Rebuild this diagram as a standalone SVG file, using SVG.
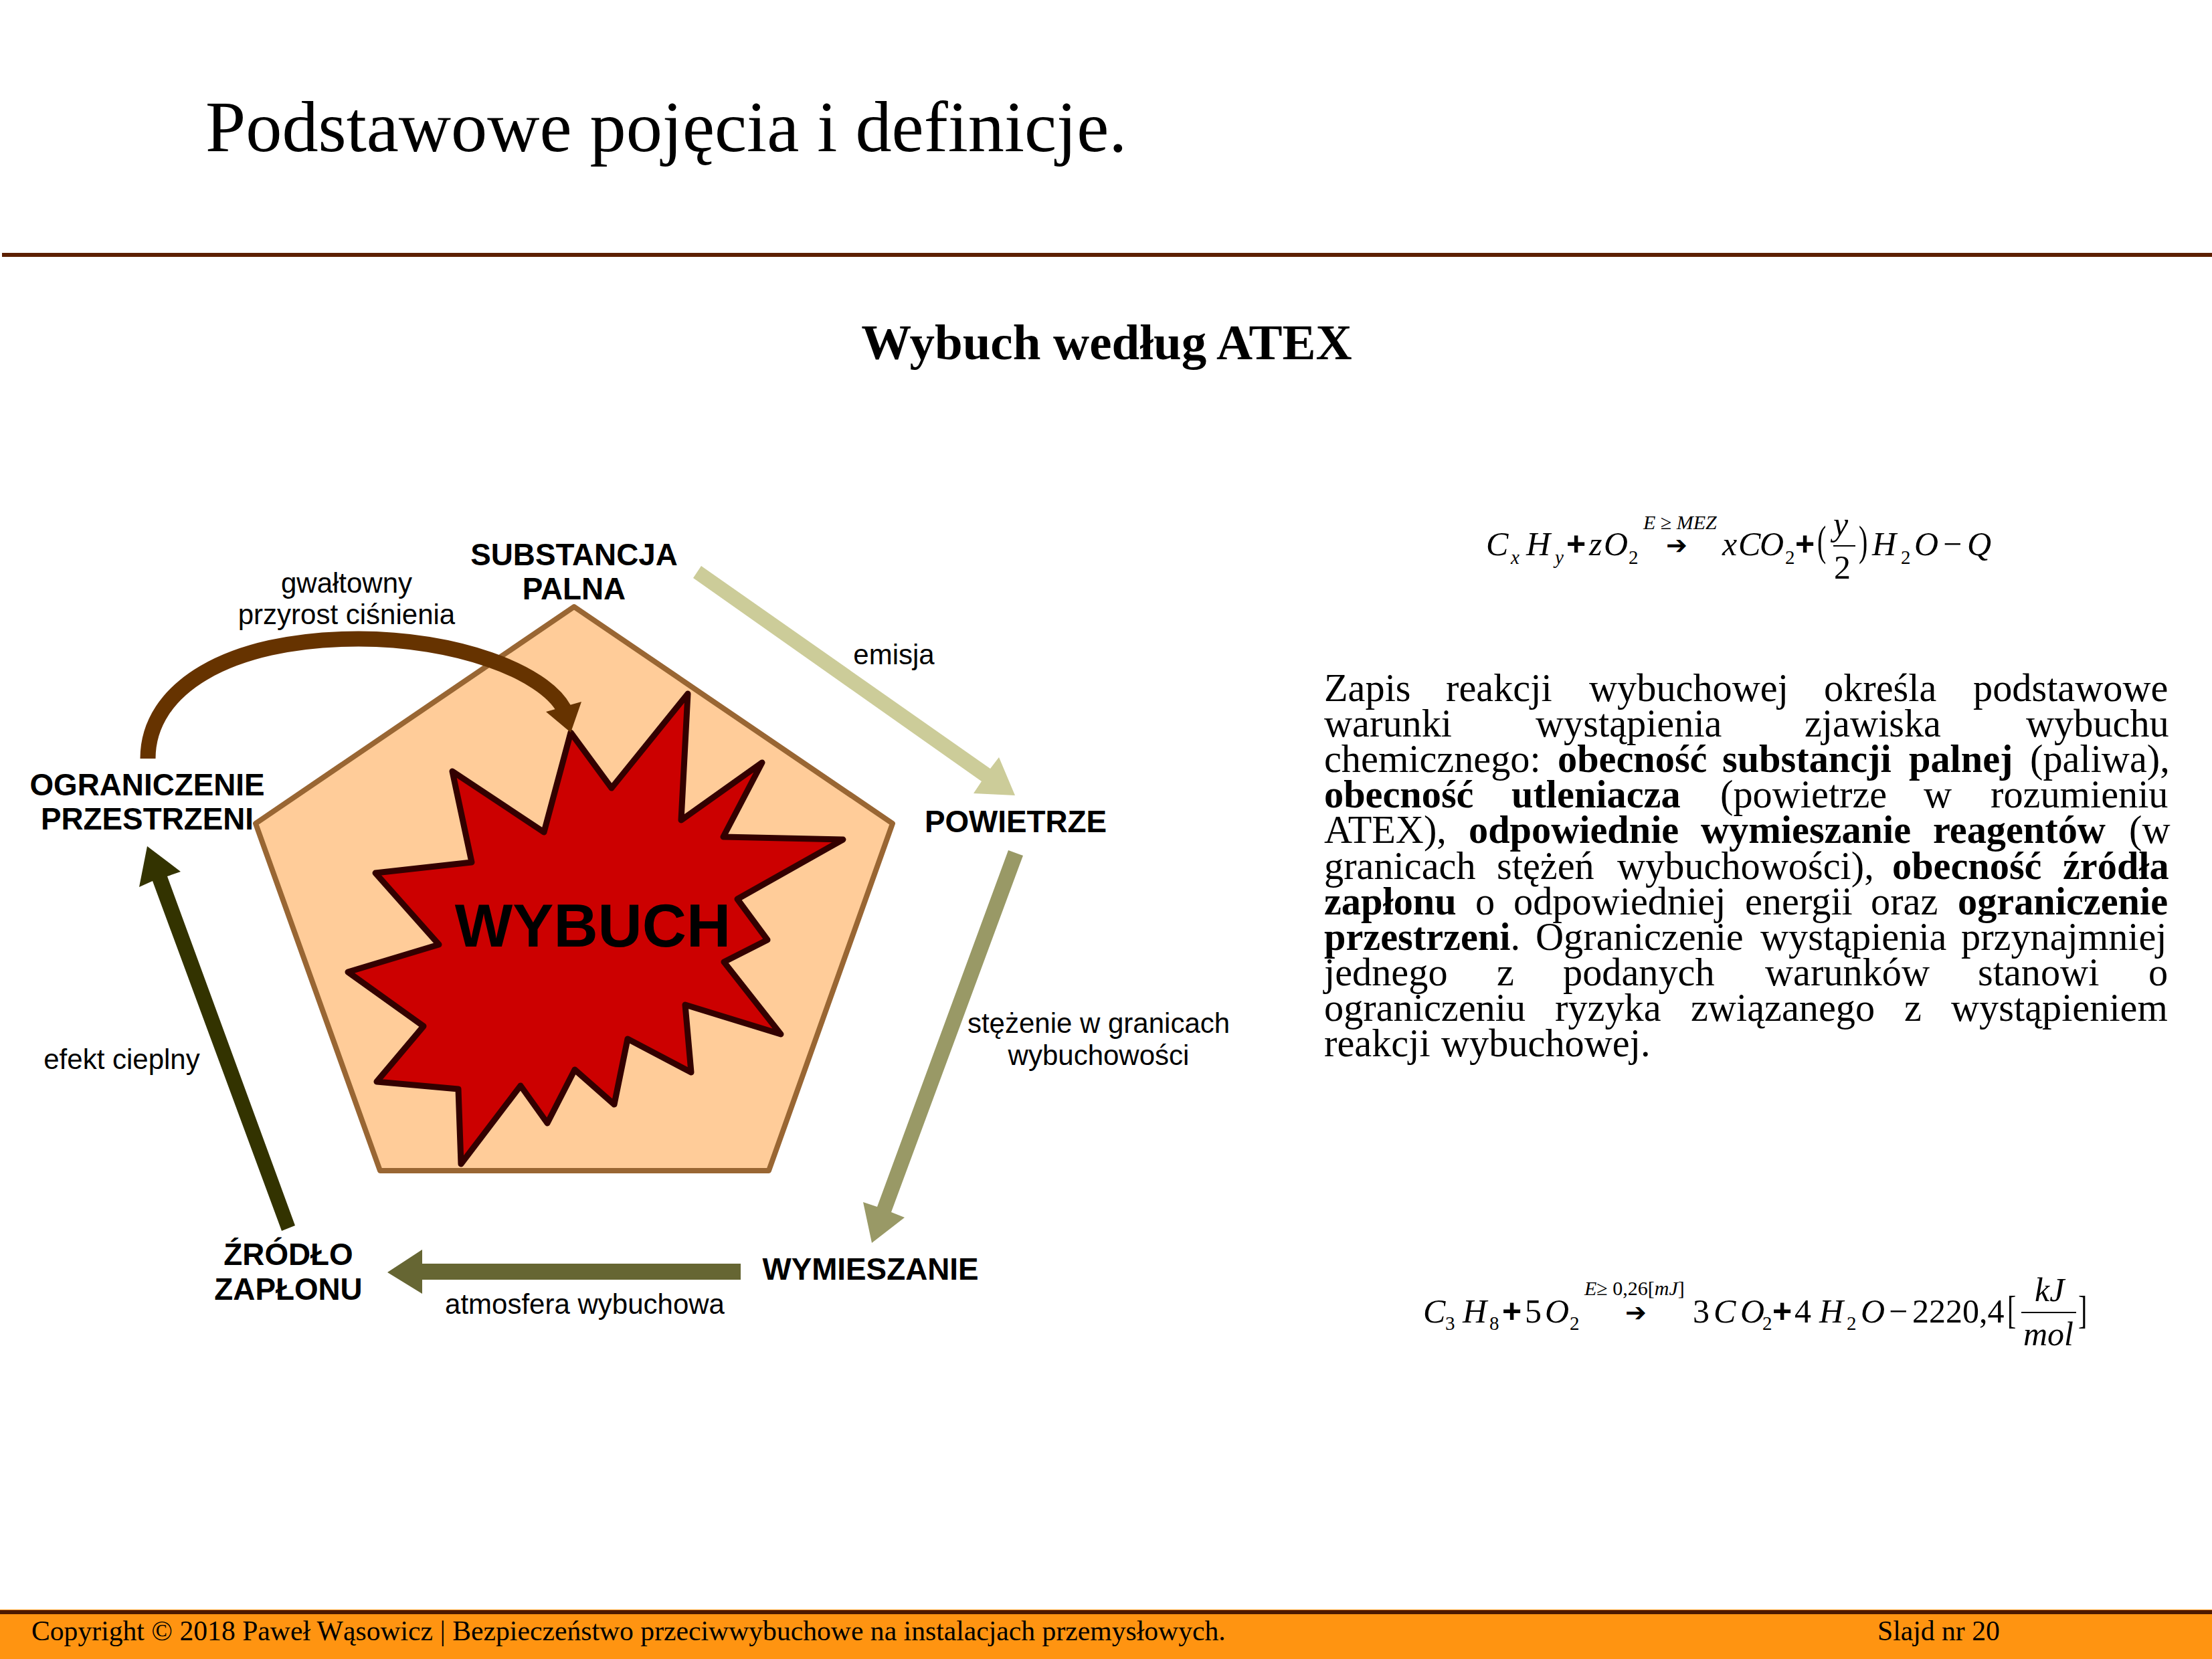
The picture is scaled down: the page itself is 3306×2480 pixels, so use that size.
<svg xmlns="http://www.w3.org/2000/svg" width="3306" height="2480" viewBox="0 0 3306 2480">
<style>
.s{font-family:"Liberation Serif","Times New Roman",serif;fill:#000}
.a{font-family:"Liberation Sans",Arial,sans-serif;fill:#000}
.lb{font-size:45.8px;font-weight:700;text-anchor:middle}
.lr{font-size:42px;text-anchor:middle}
.b{font-size:58.3px}
.w{font-weight:700}
.m{font-size:50px}
.mi{font-size:50px;font-style:italic}
.pl{font-family:"Liberation Sans",Arial,sans-serif;font-size:50px;font-weight:700}
.ar{font-family:"DejaVu Sans",sans-serif;font-size:38px;font-weight:700}
.sub{font-size:29px}
.subi{font-size:29px;font-style:italic}
.up{font-size:30px;font-style:italic}
.nf{font-style:normal}
.ft{font-size:41.67px}
.rule{fill:#5c1f00}
</style>
<rect width="3306" height="2480" fill="#fff"/>
<g id="header">
<text class="s" x="307" y="226" font-size="108.3">Podstawowe pojęcia i definicje.</text>
<rect class="rule" x="3" y="378" width="3303" height="6"/>
<text class="s w" x="1654" y="537" font-size="75" text-anchor="middle">Wybuch według ATEX</text>
</g>
<g id="node-pentagon">
<polygon points="858,907 1334,1231 1149,1750 568,1750 382,1231" fill="#ffcc99" stroke="#996633" stroke-width="8" stroke-linejoin="round"/>
</g>
<g id="node-wybuch">
<polygon points="853,1095 914,1178 1028,1037 1018,1226 1139,1140 1081,1251 1260,1255 1102,1344 1147,1405 1082,1438 1167,1546 1024,1502 1033,1603 938,1553 918,1651 859,1599 818,1679 778,1623 689,1740 685,1628 563,1617 633,1534 520,1453 656,1412 561,1305 705,1289 676,1153 813,1244" fill="#cc0000" stroke="#330000" stroke-width="9" stroke-linejoin="round"/>
<text class="a" x="886" y="1415" font-size="91.67" font-weight="700" text-anchor="middle">WYBUCH</text>
</g>
<g id="connectors">
<path d="M221 1134C221 1030 340 955 536 955C680 955 812 1003 843 1060" fill="none" stroke="#663300" stroke-width="23"/>
<polygon points="853,1095 869,1049 816,1064" fill="#663300"/>
<polygon points="1048,846 1480,1149 1493,1132 1517,1189 1455,1186 1467,1168 1036,864" fill="#cccc99"/>
<polygon points="1507,1271 1529,1279 1332,1812 1352,1820 1303,1858 1290,1797 1311,1804" fill="#999966"/>
<polygon points="1107,1889 631,1889 631,1868 579,1902 631,1934 631,1913 1107,1913" fill="#666633"/>
<polygon points="441,1832 250,1310 270,1303 220,1265 208,1326 228,1317 421,1840" fill="#333300"/>
</g>
<g id="node-substancja"><text class="a lb" x="858" y="845">SUBSTANCJA</text><text class="a lb" x="858" y="896">PALNA</text></g>
<g id="node-powietrze"><text class="a lb" x="1518" y="1244">POWIETRZE</text></g>
<g id="node-wymieszanie"><text class="a lb" x="1301" y="1913">WYMIESZANIE</text></g>
<g id="node-zrodlo"><text class="a lb" x="431" y="1891">ŹRÓDŁO</text><text class="a lb" x="431" y="1943">ZAPŁONU</text></g>
<g id="node-ograniczenie"><text class="a lb" x="220" y="1189">OGRANICZENIE</text><text class="a lb" x="220" y="1240">PRZESTRZENI</text></g>
<g id="edge-labels">
<text class="a lr" x="518" y="886">gwałtowny</text><text class="a lr" x="518" y="933">przyrost ciśnienia</text>
<text class="a lr" x="1336" y="993">emisja</text>
<text class="a lr" x="1642" y="1544">stężenie w granicach</text><text class="a lr" x="1642" y="1592">wybuchowości</text>
<text class="a lr" x="874" y="1964">atmosfera wybuchowa</text>
<text class="a lr" x="182" y="1598">efekt cieplny</text>
</g>
<g id="equation-1" class="s">
<text class="mi" x="2221" y="830">C</text><text class="subi" x="2258" y="843">x</text><text class="mi" x="2281" y="830">H</text><text class="subi" x="2324" y="843">y</text><text class="pl" x="2341" y="830">+</text><text class="mi" x="2375" y="830">z</text><text class="mi" x="2397" y="830">O</text><text class="sub" x="2434" y="843">2</text>
<text class="up" x="2456" y="791">E ≥ MEZ</text><text class="ar" x="2490" y="828">➔</text>
<text class="mi" x="2574" y="830">x</text><text class="mi" x="2598" y="830">C</text><text class="mi" x="2630" y="830">O</text><text class="sub" x="2668" y="843">2</text><text class="pl" x="2683" y="830">+</text><text class="m" transform="translate(2716 830) scale(.8 1.25)">(</text>
<text class="mi" x="2740" y="800" font-size="54">y</text><rect x="2740" y="815" width="33" height="2" fill="#000"/><text class="m" x="2741" y="865">2</text>
<text class="m" transform="translate(2778 830) scale(.8 1.25)">)</text><text class="mi" x="2798" y="830">H</text><text class="sub" x="2841" y="843">2</text><text class="mi" x="2861" y="830">O</text><text class="m" x="2904" y="830">−</text><text class="mi" x="2940" y="830">Q</text>
</g>
<g id="body" class="s b">
<text y="1048"><tspan x="1979">Zapis</tspan> <tspan x="2161">reakcji</tspan> <tspan x="2375">wybuchowej</tspan> <tspan x="2726">określa</tspan> <tspan x="2949">podstawowe</tspan></text>
<text y="1101"><tspan x="1979">warunki</tspan> <tspan x="2295">wystąpienia</tspan> <tspan x="2697">zjawiska</tspan> <tspan x="3028">wybuchu</tspan></text>
<text y="1154"><tspan x="1979">chemicznego:</tspan> <tspan class="w" x="2328">obecność</tspan> <tspan class="w" x="2574">substancji</tspan> <tspan class="w" x="2853">palnej</tspan> <tspan x="3034">(paliwa),</tspan></text>
<text y="1207"><tspan class="w" x="1979">obecność</tspan> <tspan class="w" x="2259">utleniacza</tspan> <tspan x="2571">(powietrze</tspan> <tspan x="2875">w</tspan> <tspan x="2975">rozumieniu</tspan></text>
<text y="1260"><tspan x="1979">ATEX),</tspan> <tspan class="w" x="2195">odpowiednie</tspan> <tspan class="w" x="2542">wymieszanie</tspan> <tspan class="w" x="2889">reagentów</tspan> <tspan x="3182">(w</tspan></text>
<text y="1314"><tspan x="1979">granicach</tspan> <tspan x="2237">stężeń</tspan> <tspan x="2417">wybuchowości),</tspan> <tspan class="w" x="2828">obecność</tspan> <tspan class="w" x="3083">źródła</tspan></text>
<text y="1367"><tspan class="w" x="1979">zapłonu</tspan> <tspan x="2205">o</tspan> <tspan x="2262">odpowiedniej</tspan> <tspan x="2608">energii</tspan> <tspan x="2796">oraz</tspan> <tspan class="w" x="2926">ograniczenie</tspan></text>
<text y="1420"><tspan class="w" x="1979">przestrzeni</tspan><tspan>.</tspan> <tspan x="2295">Ograniczenie</tspan> <tspan x="2631">wystąpienia</tspan> <tspan x="2931">przynajmniej</tspan></text>
<text y="1473"><tspan x="1979">jednego</tspan> <tspan x="2237">z</tspan> <tspan x="2336">podanych</tspan> <tspan x="2638">warunków</tspan> <tspan x="2956">stanowi</tspan> <tspan x="3211">o</tspan></text>
<text y="1526"><tspan x="1979">ograniczeniu</tspan> <tspan x="2324">ryzyka</tspan> <tspan x="2527">związanego</tspan> <tspan x="2846">z</tspan> <tspan x="2916">wystąpieniem</tspan></text>
<text y="1579"><tspan x="1979">reakcji</tspan> <tspan x="2154">wybuchowej.</tspan></text>
</g>
<g id="equation-2" class="s">
<text class="mi" x="2127" y="1977">C</text><text class="sub" x="2160" y="1988">3</text><text class="mi" x="2186" y="1977">H</text><text class="sub" x="2226" y="1988">8</text><text class="pl" x="2245" y="1977">+</text><text class="m" x="2279" y="1977">5</text><text class="mi" x="2309" y="1977">O</text><text class="sub" x="2346" y="1988">2</text>
<text class="up" x="2368" y="1936">E<tspan class="nf">≥ 0,26[</tspan>mJ<tspan class="nf">]</tspan></text><text class="ar" x="2429" y="1975">➔</text>
<text class="m" x="2530" y="1977">3</text><text class="mi" x="2561" y="1977">C</text><text class="mi" x="2601" y="1977">O</text><text class="sub" x="2634" y="1988">2</text><text class="pl" x="2649" y="1977">+</text><text class="m" x="2682" y="1977">4</text><text class="mi" x="2719" y="1977">H</text><text class="sub" x="2760" y="1988">2</text><text class="mi" x="2781" y="1977">O</text><text class="m" x="2823" y="1977">−</text><text class="m" x="2858" y="1977">2220,4</text><text class="m" transform="translate(3000 1978) scale(.8 1.17)">[</text>
<text class="mi" x="3041" y="1945">kJ</text><rect x="3021" y="1961" width="82" height="2" fill="#000"/><text class="mi" x="3024" y="2011">mol</text>
<text class="m" transform="translate(3106 1978) scale(.8 1.17)">]</text>
</g>
<g id="footer">
<rect y="2406" width="3306" height="74" fill="#ff9411"/>
<rect class="rule" y="2407" width="3306" height="6" style="fill:#4c1900"/>
<text class="s ft" x="47" y="2452">Copyright © 2018 Paweł Wąsowicz | Bezpieczeństwo przeciwwybuchowe na instalacjach przemysłowych.</text>
<text class="s ft" x="2806" y="2452">Slajd nr 20</text>
</g>
</svg>
